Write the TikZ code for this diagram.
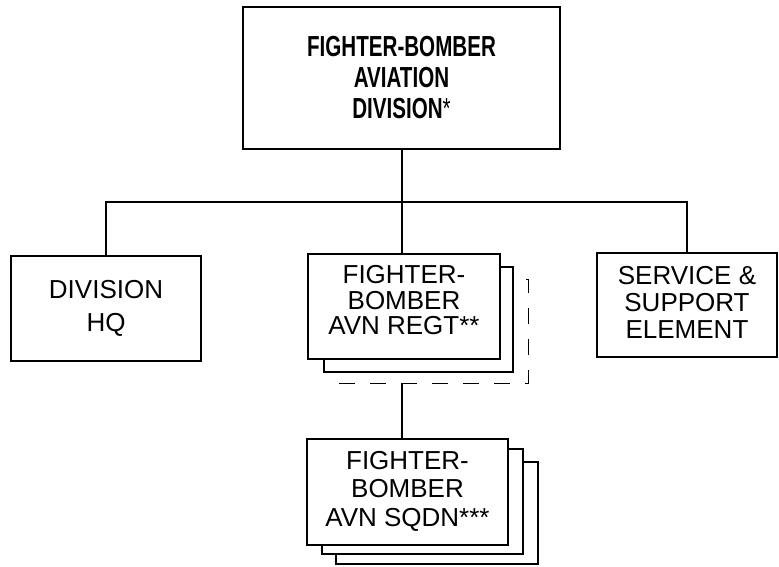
\documentclass[tikz,border=0pt]{standalone}
\usepackage{fontspec}
\setmainfont{Liberation Sans}
\newfontfamily\headfont[FakeStretch=0.71]{Liberation Sans}
\usetikzlibrary{positioning}
\tikzset{
  unit/.style={draw, fill=white, line width=1.2pt, inner sep=0pt, outer sep=0pt, align=center,
               minimum width=#1},
  unit/.default=190pt,
  hunit/.style={unit=317pt, minimum height=142pt, font=\headfont\bfseries\fontsize{29}{31}\selectfont},
  backunit/.style={draw, fill=white, line width=1.2pt, inner sep=0pt, outer sep=0pt},
  optunit/.style={draw, dash pattern=on 16pt off 15pt, line width=0.9pt, inner sep=0pt, outer sep=0pt},
  link/.style={line width=1.2pt},
}
\begin{document}
\begin{tikzpicture}[x=1pt, y=-1pt]
\useasboundingbox (0,0) rectangle (779,566);

% division headquarters box
\node[hunit] (div) at (401.5,78) {FIGHTER-BOMBER\\AVIATION\\DIVISION{\mdseries*}};

% second row
\node[unit=190pt, minimum height=105pt, font=\fontsize{26}{33}\selectfont] (hq) at (106,308.5) {DIVISION\\HQ};
\node[optunit, minimum width=189pt, minimum height=104pt] (regt3) at (433.5,331) {};
\node[backunit, minimum width=189pt, minimum height=105pt] (regt2) at (418.5,319.5) {};
\node[unit=192pt, minimum height=105pt, text depth=13pt, font=\fontsize{26}{25.5}\selectfont] (regt) at (404,306.5) {FIGHTER-\\BOMBER\\AVN REGT**};
\node[unit=180pt, minimum height=104pt, text depth=6pt, font=\fontsize{26}{27}\selectfont] (svc) at (687,305) {SERVICE \&\\SUPPORT\\ELEMENT};

% squadrons
\node[backunit, minimum width=202pt, minimum height=102pt] (sqdn3) at (437,513) {};
\node[backunit, minimum width=201pt, minimum height=105pt] (sqdn2) at (422.5,501.5) {};
\node[unit=201pt, minimum height=106pt, text depth=7pt, font=\fontsize{26}{28.5}\selectfont] (sqdn) at (407.5,492) {FIGHTER-\\BOMBER\\AVN SQDN***};

% connectors
\coordinate (bar) at (402,202);
\draw[link] (div.south -| bar) -- (regt.north -| bar);
\draw[link] (hq.north) |- (bar) -| (svc.north);
\draw[link] (regt3.south -| bar) -- (sqdn.north -| bar);
\end{tikzpicture}
\end{document}
